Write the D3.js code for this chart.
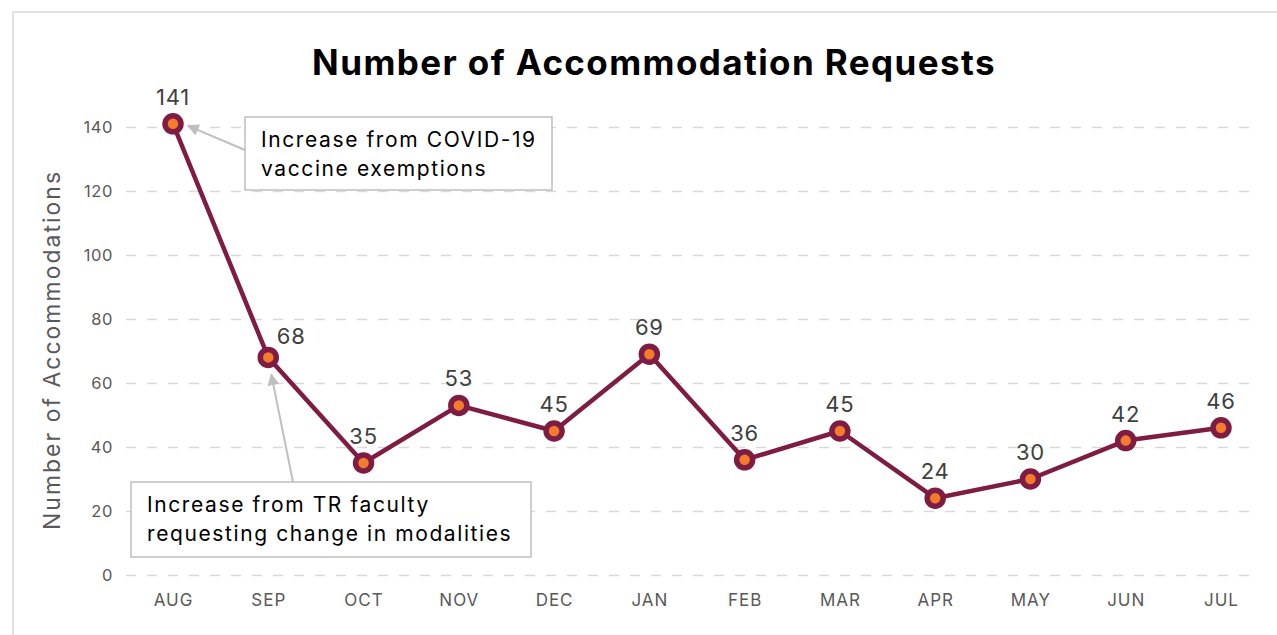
<!DOCTYPE html>
<html>
<head>
<meta charset="utf-8">
<script src="https://cdn.jsdelivr.net/npm/d3@7"></script>
<style>
  html, body { margin: 0; padding: 0; background: #ffffff; }
  svg { display: block; font-family: "Inter", "Open Sans", sans-serif; }
</style>
</head>
<body>
<svg id="chart" width="1277" height="635"></svg>
<script>
// ---- data ----
const months = ["AUG","SEP","OCT","NOV","DEC","JAN","FEB","MAR","APR","MAY","JUN","JUL"];
const requests = [141, 68, 35, 53, 45, 69, 36, 45, 24, 30, 42, 46];
const yTicks = [0, 20, 40, 60, 80, 100, 120, 140];
const chartTitle = "Number of Accommodation Requests";
const yAxisTitle = "Number of Accommodations";
const note1Lines = ["Increase from COVID-19", "vaccine exemptions"];
const note2Lines = ["Increase from TR faculty", "requesting change in modalities"];

// ---- layout ----
const svg = d3.select("#chart");
const plotLeft = 126, plotRight = 1259, plotTop = 127, plotBottom = 575;
const maroon = "#7e1c44", orange = "#f27b2c", grid = "#d9d9d9", axisText = "#595959";

// chart frame
svg.append("rect").attr("x", 13).attr("y", 12).attr("width", 1290).attr("height", 640)
  .attr("fill", "none").attr("stroke", "#d9d9d9").attr("stroke-width", 1.5);

const x = d3.scalePoint().domain(months).range([173, 1221]);
const y = d3.scaleLinear().domain([0, 140]).range([plotBottom, plotTop]);

// title
svg.append("text").attr("x", 654).attr("y", 75).attr("text-anchor", "middle")
  .attr("font-size", 35).attr("font-weight", 700).attr("fill", "#000")
  .attr("letter-spacing", 1.4)
  .text(chartTitle);

// y axis with gridlines
const yAxis = svg.append("g").attr("transform", `translate(${plotLeft},0)`)
  .call(d3.axisLeft(y).tickValues(yTicks).tickSize(-(plotRight - plotLeft)).tickPadding(13));
yAxis.select(".domain").remove();
yAxis.selectAll(".tick line").attr("stroke", grid).attr("stroke-width", 1.5).attr("stroke-dasharray", "10,11");
yAxis.selectAll(".tick text").attr("fill", axisText).attr("font-size", 16.5).attr("letter-spacing", 0.6)
  .attr("font-family", "Inter, sans-serif");

// x axis
const xAxis = svg.append("g").attr("transform", `translate(0,${plotBottom})`)
  .call(d3.axisBottom(x).tickSize(0).tickPadding(19));
xAxis.select(".domain").remove();
xAxis.selectAll(".tick text").attr("fill", axisText).attr("font-size", 17).attr("letter-spacing", 1)
  .attr("font-family", "Inter, sans-serif");

// y axis title
svg.append("text").attr("transform", `translate(60,350) rotate(-90)`).attr("text-anchor", "middle")
  .attr("font-size", 23).attr("fill", axisText).attr("letter-spacing", 2)
  .text(yAxisTitle);

// arrowhead
svg.append("defs").append("marker").attr("id", "arrow").attr("viewBox", "0 0 10 10")
  .attr("refX", 9).attr("refY", 5).attr("markerWidth", 6).attr("markerHeight", 6)
  .attr("orient", "auto-start-reverse").attr("markerUnits", "strokeWidth")
  .append("path").attr("d", "M0,0 L10,5 L0,10 z").attr("fill", "#bfbfbf");

// annotation 1 arrow
svg.append("line").attr("x1", 245).attr("y1", 150).attr("x2", x(months[0]) + 15).attr("y2", y(requests[0]) + 2)
  .attr("stroke", "#bfbfbf").attr("stroke-width", 2).attr("marker-end", "url(#arrow)");
// annotation 2 arrow
svg.append("line").attr("x1", 293).attr("y1", 482).attr("x2", x(months[1]) + 3).attr("y2", y(requests[1]) + 17)
  .attr("stroke", "#bfbfbf").attr("stroke-width", 2).attr("marker-end", "url(#arrow)");

// line
svg.append("path").datum(requests)
  .attr("fill", "none").attr("stroke", maroon).attr("stroke-width", 4.5).attr("stroke-linejoin", "round")
  .attr("d", d3.line().x((d, i) => x(months[i])).y(d => y(d)));

// markers
svg.selectAll("circle.pt").data(requests).join("circle").attr("class", "pt")
  .attr("cx", (d, i) => x(months[i])).attr("cy", d => y(d)).attr("r", 8)
  .attr("fill", orange).attr("stroke", maroon).attr("stroke-width", 5.5);

// value labels
svg.selectAll("text.val").data(requests).join("text").attr("class", "val")
  .attr("x", (d, i) => x(months[i]) + (i === 1 ? 23 : 0))
  .attr("y", (d, i) => y(d) - (i === 1 ? 13 : 19))
  .attr("text-anchor", "middle").attr("font-size", 22).attr("letter-spacing", 0.8).attr("fill", "#404040")
  .text(d => d);

// annotation boxes
function note(bx, by, bw, bh, lines, tx, ty) {
  svg.append("rect").attr("x", bx).attr("y", by).attr("width", bw).attr("height", bh)
    .attr("fill", "#fff").attr("stroke", "#bfbfbf").attr("stroke-width", 1.5);
  const t = svg.append("text").attr("font-size", 21).attr("letter-spacing", 1.6).attr("fill", "#000");
  lines.forEach((l, i) => t.append("tspan").attr("x", tx).attr("y", ty + i * 28.5).text(l));
}
note(245, 117, 307, 73, note1Lines, 261, 147);
note(131, 482, 400, 75, note2Lines, 147, 512);
</script>
</body>
</html>
